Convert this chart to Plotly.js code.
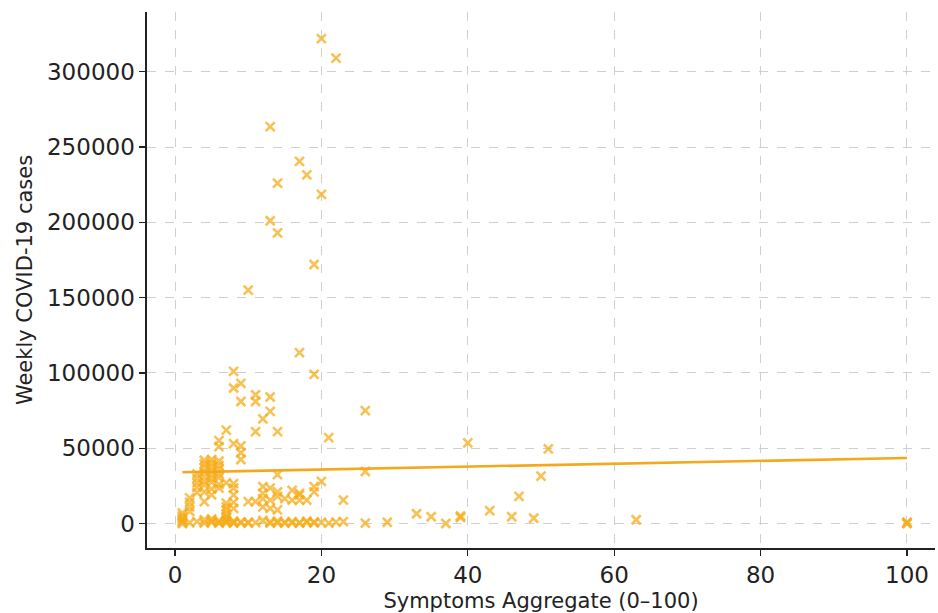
<!DOCTYPE html>
<html>
<head>
<meta charset="utf-8">
<script src="https://cdn.plot.ly/plotly-3.0.1.min.js"></script>
<style>html,body{margin:0;padding:0;background:#fff;}#chart{width:938px;height:613px;}</style>
</head>
<body>
<div id="chart"></div>
<script>
// Scatter points: Symptoms Aggregate (0-100) vs weekly COVID-19 cases
const symptomsX = [
  20,22,13,17,18,14,20,13,14,19,10,
  17,8,19,9,8,11,13,9,11,26,13,12,7,11,14,21,6,8,40,6,9,51,9,9,
  3,3,3,3,3,
  4,4,4,4,4,4,4,4,4,
  5,5,5,5,5,5,5,5,5,
  6,6,6,6,6,6,6,
  7,7,7,7,7,7,
  8,8,8,8,8,
  10,11,2,2,2,2,1,1,1,1,
  12,12,12,12,13,13,13,14,14,14,14,
  16,17,17,15,16,17,18,19,19,20,23,
  47,43,33,35,46,39,39,49,50,26,37,26,29,63,100,100,100,
  1,1,2,3,4,4,5,5,5,6,6,6,7,7,7,7,8,8,8,9,9,10,10,11,12,13,13,14,14,15,15,16,16,17,17,18,18,19,19,20,21,22,23
];
const weeklyCases = [
  322000,309000,263500,240500,231500,226000,218500,201000,193000,172000,155000,
  113500,101000,99000,93000,90000,85500,84000,81000,81000,75000,74500,69500,62000,61000,61000,57000,55000,53000,53500,51000,51500,49500,47000,42500,
  33000,30000,27000,24000,20500,
  42000,39500,37000,34000,31000,28000,25500,21000,14500,
  42500,40000,37500,35000,32500,30000,27500,23000,19000,
  41500,38500,36000,33000,30500,26000,23500,
  27000,13500,11000,9000,6500,4500,
  26500,23500,19000,14000,10000,
  14500,14500,17000,14000,11000,8000,7000,5000,3500,2000,
  24500,20000,16500,11000,23500,15500,10000,32500,21000,18000,9000,
  22000,20000,19000,16500,15500,15500,15500,24500,21000,28000,15500,
  18000,8500,6500,4500,4500,5000,4000,3500,31500,34500,0,300,800,2500,0,400,800,
  0,1000,500,1200,300,2500,800,3000,1500,200,1800,700,500,2000,1200,3500,300,1500,800,400,1100,200,900,600,2000,300,1000,500,1500,200,900,400,1200,600,300,800,1500,400,1000,700,300,900,1200
];
// Fitted trend line end points
const trendX = [1, 100];
const trendY = [34000, 43500];

const xTicks = [0, 20, 40, 60, 80, 100];
const yTicks = [0, 50000, 100000, 150000, 200000, 250000, 300000];

const orange = 'rgba(245,172,25,0.75)';
const data = [
  {
    type: 'scatter', mode: 'markers',
    x: symptomsX, y: weeklyCases,
    marker: {symbol: 'x-thin', size: 9, color: orange, line: {color: orange, width: 2.6}},
    hoverinfo: 'x+y', showlegend: false
  },
  {
    type: 'scatter', mode: 'lines',
    x: trendX, y: trendY,
    line: {color: '#f5a81c', width: 2.6},
    showlegend: false
  }
];

const axisCommon = {
  showline: true, linecolor: '#222', linewidth: 1.6,
  ticks: 'outside', ticklen: 6, tickwidth: 1.3, tickcolor: '#222',
  showgrid: true, gridcolor: '#cfcfcf', griddash: 'dash', gridwidth: 1,
  zeroline: false, mirror: false
};

const layout = {
  width: 938, height: 613,
  margin: {l: 147, r: 3, t: 12, b: 65},
  paper_bgcolor: '#fff', plot_bgcolor: '#fff',
  xaxis: Object.assign({}, axisCommon, {
    range: [-3.83, 103.83], tickvals: xTicks, ticktext: xTicks.map(String),
    tickfont: {family: 'DejaVu Sans', size: 23, color: '#222'},
    title: {text: 'Symptoms Aggregate (0–100)', font: {family: 'DejaVu Sans', size: 21, color: '#222'}, standoff: 6}
  }),
  yaxis: Object.assign({}, axisCommon, {
    range: [-16270, 339640], tickvals: yTicks, ticktext: yTicks.map(String),
    tickfont: {family: 'DejaVu Sans', size: 23, color: '#222'},
    title: {text: 'Weekly COVID-19 cases', font: {family: 'DejaVu Sans', size: 21, color: '#222'}, standoff: 8}
  })
};

Plotly.newPlot('chart', data, layout, {displayModeBar: false, staticPlot: true});
</script>
</body>
</html>
